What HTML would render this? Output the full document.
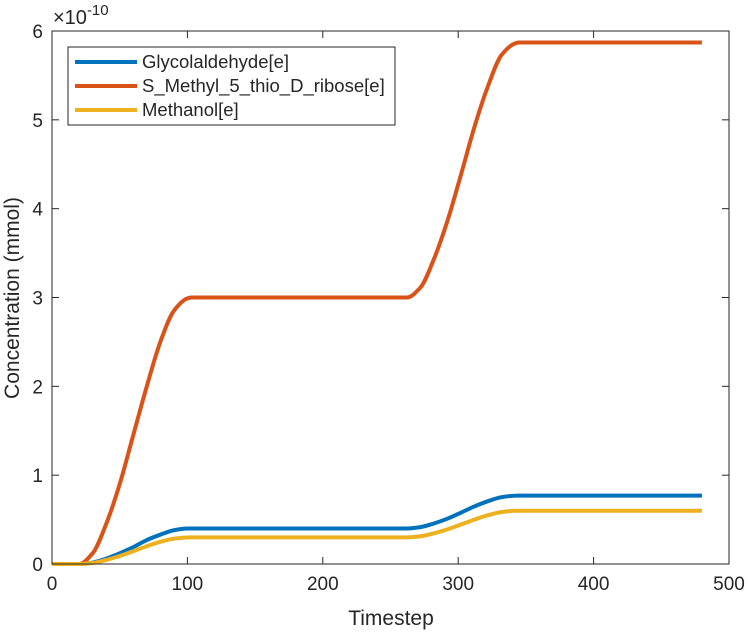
<!DOCTYPE html>
<html><head><meta charset="utf-8"><style>
body{margin:0;background:#fff}
svg text{font-family:"Liberation Sans",Arial,sans-serif;fill:#262626}
</style></head><body>
<svg id="chart" width="749" height="632" xmlns="http://www.w3.org/2000/svg">
<rect width="749" height="632" fill="#fff"/>
<g id="plot"></g>
<g id="axes"></g>
</svg>
<script>
const timesteps=[0,20,30,40,50,60,70,80,90,100,103,262,272,282,292,302,312,322,332,342,345,480];
const glycolaldehyde=[0,0,0.016,0.06,0.12,0.19,0.27,0.33,0.38,0.399,0.4,0.4,0.415,0.456,0.51,0.578,0.648,0.707,0.752,0.769,0.77,0.77];
const methylThioRibose=[0,0,0.12,0.45,0.9,1.45,2.0,2.5,2.85,2.99,3.0,3.0,3.11,3.43,3.86,4.38,4.92,5.38,5.73,5.86,5.87,5.87];
const methanol=[0,0,0.012,0.045,0.09,0.144,0.2,0.25,0.285,0.299,0.3,0.3,0.312,0.345,0.39,0.444,0.5,0.549,0.585,0.599,0.6,0.6];
const xTicks=[0,100,200,300,400,500];
const yTicks=[0,1,2,3,4,5,6];
const seriesNames=["Glycolaldehyde[e]","S_Methyl_5_thio_D_ribose[e]","Methanol[e]"];
const seriesColors=["#0072BD","#D95319","#EDB120"];

const L=52,R=729,T=31,B=564;
const xs=v=>L+(v-0)/(500-0)*(R-L);
const ys=v=>B-(v-0)/(6-0)*(B-T);
const NS="http://www.w3.org/2000/svg";
function mk(tag,attrs,parent){const e=document.createElementNS(NS,tag);for(const k in attrs)e.setAttribute(k,attrs[k]);parent.appendChild(e);return e;}
function smoothPath(pts){
  // monotone cubic (Fritsch-Carlson) in pixel space
  const n=pts.length,d=[],m=[];
  for(let i=0;i<n-1;i++)d.push((pts[i+1][1]-pts[i][1])/(pts[i+1][0]-pts[i][0]));
  m[0]=d[0];m[n-1]=d[n-2];
  for(let i=1;i<n-1;i++)m[i]=(d[i-1]*d[i]<=0)?0:(2/(1/d[i-1]+1/d[i]));
  let s='M'+pts[0][0]+','+pts[0][1];
  for(let i=0;i<n-1;i++){const h=(pts[i+1][0]-pts[i][0])/3;
    s+=' C'+(pts[i][0]+h)+','+(pts[i][1]+m[i]*h)+' '+(pts[i+1][0]-h)+','+(pts[i+1][1]-m[i+1]*h)+' '+pts[i+1][0]+','+pts[i+1][1];}
  return s;
}
const plot=document.getElementById('plot'),axes=document.getElementById('axes');
const allSeries=[glycolaldehyde,methylThioRibose,methanol];
const keys=['glycolaldehyde','methyl-thio-ribose','methanol'];
allSeries.forEach((s,i)=>{
  const p=mk('path',{d:smoothPath(s.map((v,j)=>[xs(timesteps[j]),ys(v)])),fill:'none',stroke:seriesColors[i],'stroke-width':4,'stroke-linejoin':'round'},plot);
  
  
});
const box=mk('rect',{x:L,y:T,width:R-L,height:B-T,fill:'none',stroke:'#262626','stroke-width':1},axes);


xTicks.forEach(t=>{
  const x=xs(t);
  mk('line',{x1:x,x2:x,y1:B,y2:B-7,stroke:'#262626'},axes);
  mk('line',{x1:x,x2:x,y1:T,y2:T+7,stroke:'#262626'},axes);
  const tx=mk('text',{x:x,y:B+26,'text-anchor':'middle','font-size':19},axes);tx.textContent=t;
  
  
});
yTicks.forEach(t=>{
  const y=ys(t);
  mk('line',{x1:L,x2:L+7,y1:y,y2:y,stroke:'#262626'},axes);
  mk('line',{x1:R,x2:R-7,y1:y,y2:y,stroke:'#262626'},axes);
  const tx=mk('text',{x:L-9,y:y+7,'text-anchor':'end','font-size':19},axes);tx.textContent=t;
  
  
});
const ex=mk('text',{x:53,y:24,'font-size':20},axes);
ex.innerHTML='×10<tspan dy="-9" font-size="15">-10</tspan>';


const xl=mk('text',{x:391,y:625,'text-anchor':'middle','font-size':21},axes);xl.textContent='Timestep';


const yl=mk('text',{x:0,y:0,'text-anchor':'middle','font-size':21,transform:'translate(19,298) rotate(-90)'},axes);yl.textContent='Concentration (mmol)';


const lg=mk('g',{},axes);


mk('rect',{x:68,y:47,width:327,height:78,fill:'#fff',stroke:'#262626'},lg);
seriesNames.forEach((n,i)=>{
  const y=62+i*24;
  const g=mk('g',{},lg);
  
  
  mk('line',{x1:75,x2:137,y1:y,y2:y,stroke:seriesColors[i],'stroke-width':4},g);
  const t=mk('text',{x:142,y:y+6,'font-size':18.5},g);t.textContent=n;
});
</script>
</body></html>
